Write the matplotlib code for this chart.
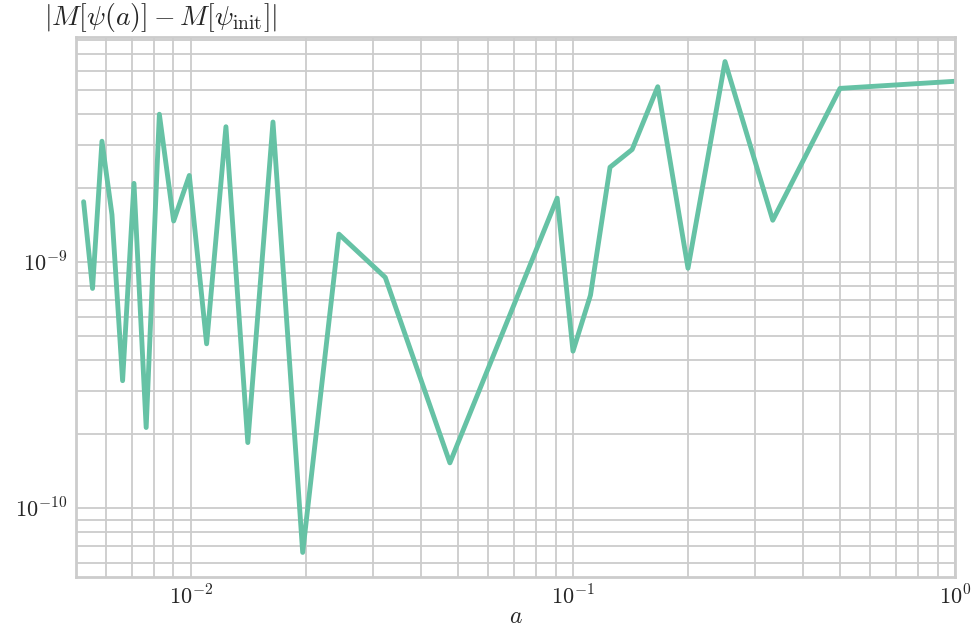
import numpy as np
import matplotlib
matplotlib.use("Agg")
import matplotlib.pyplot as plt
import matplotlib.ticker as mticker
import seaborn as sns

# step sizes a (as fractions) and the measured mass drift
a_vals = [1/191, 1/181, 1/171, 1/161, 1/151, 1/141, 1/131, 1/121, 1/111, 1/101,
          1/91, 1/81, 1/71, 1/61, 1/51, 1/41, 1/31, 1/21, 1/11, 1/10,
          1/9, 1/8, 1/7, 1/6, 1/5, 1/4, 1/3, 1/2, 1.0]
mass_err = [1.76e-9, 7.82e-10, 3.10e-9, 1.56e-9, 3.30e-10, 2.09e-9, 2.13e-10, 3.99e-9, 1.47e-9, 2.25e-9,
            4.66e-10, 3.55e-9, 1.85e-10, 3.71e-9, 6.62e-11, 1.30e-9, 8.67e-10, 1.53e-10, 1.82e-9, 4.35e-10,
            7.34e-10, 2.43e-9, 2.87e-9, 5.16e-9, 9.45e-10, 6.53e-9, 1.48e-9, 5.08e-9, 5.43e-9]

sns.set_style("whitegrid")
plt.rcParams['mathtext.fontset'] = 'cm'
plt.rcParams['font.family'] = ['DejaVu Serif']


def pow10(v, pos):
    return r'$10^{%d}$' % int(round(np.log10(v)))


fig = plt.figure(figsize=(9.79, 6.37), dpi=100)
ax = fig.add_axes([0.0776, 0.0942, 0.8979, 0.8477])

ax.plot(a_vals, mass_err, color='#66c2a5', linewidth=3.5)
ax.set_xscale('log')
ax.set_yscale('log')
ax.set_xlim(0.005, 1.0)
ax.xaxis.set_major_formatter(mticker.FuncFormatter(pow10))
ax.yaxis.set_major_formatter(mticker.FuncFormatter(pow10))
ax.xaxis.set_minor_formatter(mticker.NullFormatter())
ax.yaxis.set_minor_formatter(mticker.NullFormatter())

ax.grid(True, which='both', color='#cccccc', linewidth=1.3)
ax.tick_params(which='both', length=0, labelsize=16, pad=6)
for s in ax.spines.values():
    s.set_color('#cccccc')
    s.set_linewidth(2)

ax.set_xlabel(r'$a$', fontsize=17, labelpad=-3)
ax.text(-0.036, 1.006, r'$|M[\psi(a)] - M[\psi_{\rm init}]|$', transform=ax.transAxes,
        fontsize=20, ha='left', va='bottom')

fig.savefig('out.png', dpi=100)
